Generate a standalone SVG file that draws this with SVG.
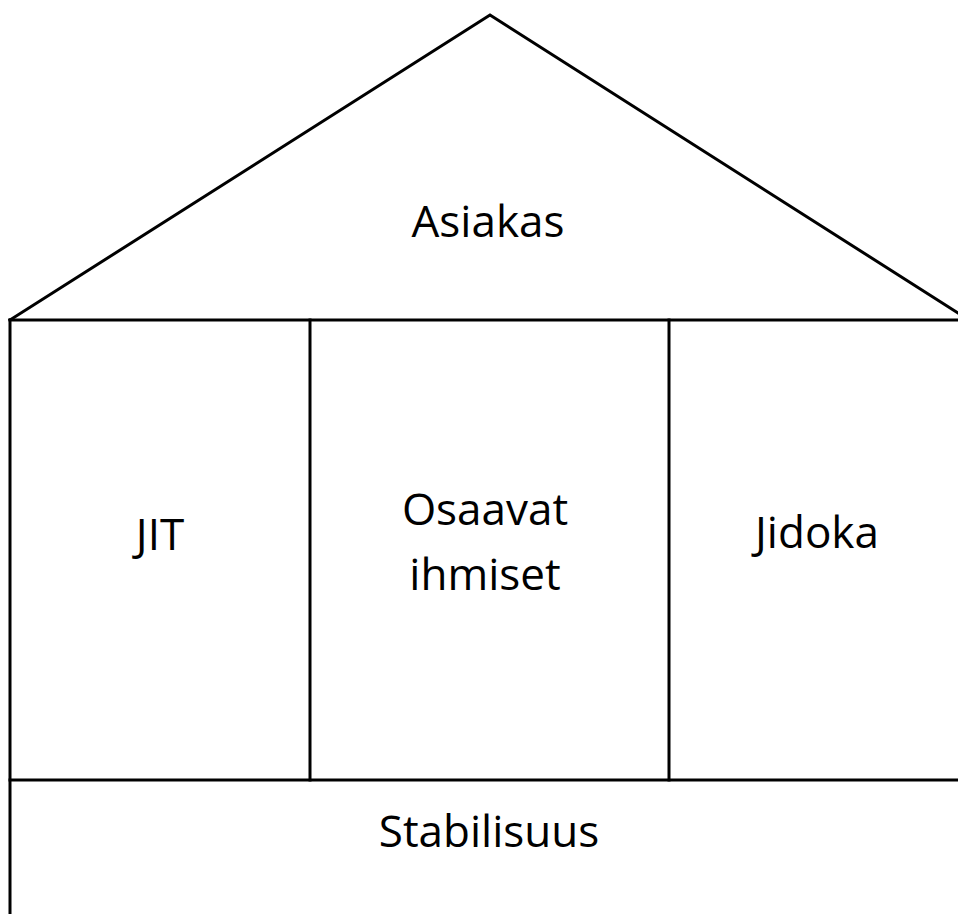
<svg xmlns="http://www.w3.org/2000/svg" width="958" height="914" viewBox="0 0 958 914">
<style>
.ln{stroke:#000;stroke-width:3;fill:none;stroke-linecap:square}
.t{font-family:"Open Sans","Noto Sans",sans-serif;font-size:44px;fill:#000;text-anchor:middle}
</style>
<rect width="958" height="914" fill="#fff"/>
<g id="connectors">
<polyline class="ln" points="10,320 490,15 969,320"/>
<line class="ln" x1="10" y1="320" x2="970" y2="320"/>
<line class="ln" x1="10" y1="320" x2="10" y2="920"/>
<line class="ln" x1="310" y1="320" x2="310" y2="780"/>
<line class="ln" x1="669" y1="320" x2="669" y2="780"/>
<line class="ln" x1="10" y1="780" x2="970" y2="780"/>
</g>
<g id="roof"><text class="t" x="488" y="237">Asiakas</text></g>
<g id="jit"><text class="t" x="160" y="550">JIT</text></g>
<g id="osaavat"><text class="t" x="485" y="525">Osaavat</text><text class="t" x="485" y="590">ihmiset</text></g>
<g id="jidoka"><text class="t" x="817" y="548">Jidoka</text></g>
<g id="stabilisuus"><text class="t" x="489" y="847">Stabilisuus</text></g>
</svg>
